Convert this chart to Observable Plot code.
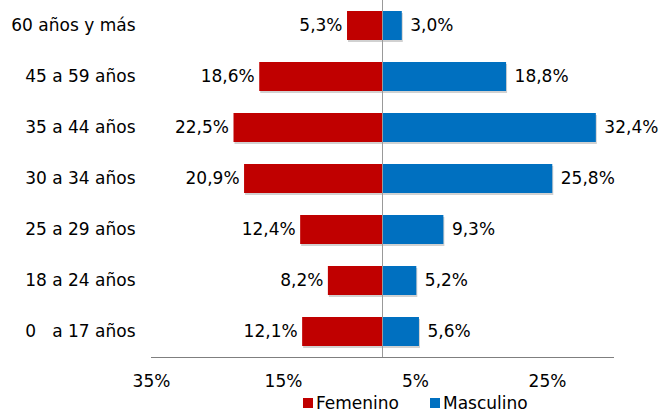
<!DOCTYPE html>
<html>
<head>
<meta charset="utf-8">
<script src="https://cdn.jsdelivr.net/npm/d3@7"></script>
<script src="https://cdn.jsdelivr.net/npm/@observablehq/plot@0.6"></script>
<style>
  body { margin: 0; background: #fff; font-family: "DejaVu Sans", Verdana, sans-serif; }
  #legend { height: 20px; line-height: 20px; font-size: 17px; color: #000; position: relative; }
  .sw { position: absolute; top: 5px; width: 10px; height: 10px; }
  .lt { position: absolute; top: 0; }
</style>
</head>
<body>
<div id="chart"></div>
<div id="legend">
  <span class="sw" style="left:303px;background:#C00000"></span><span class="lt" style="left:316px">Femenino</span>
  <span class="sw" style="left:430px;background:#0070C0"></span><span class="lt" style="left:443px">Masculino</span>
</div>
<script>
const categories = ["60 años y más", "45 a 59 años", "35 a 44 años", "30 a 34 años", "25 a 29 años", "18 a 24 años", "0   a 17 años"];
const femenino = [5.3, 18.6, 22.5, 20.9, 12.4, 8.2, 12.1];
const masculino = [3.0, 18.8, 32.4, 25.8, 9.3, 5.2, 5.6];
const xTicks = [-35, -15, 5, 25];

const fmt = d => d.toFixed(1).replace(".", ",") + "%";
const fem = categories.map((c, i) => ({cat: c, v: -femenino[i], label: fmt(femenino[i])}));
const mas = categories.map((c, i) => ({cat: c, v: masculino[i], label: fmt(masculino[i])}));

const chart = Plot.plot({
  width: 664,
  height: 393,
  marginTop: 0,
  marginBottom: 36,
  marginLeft: 151,
  marginRight: 51,
  style: {fontFamily: "DejaVu Sans, Verdana, sans-serif", fontSize: "17px", color: "#000", whiteSpace: "pre"},
  x: {domain: [-35, 35], ticks: xTicks, tickFormat: d => Math.abs(d) + "%", label: null},
  y: {domain: categories, paddingInner: 0.43, paddingOuter: 0.215, label: null},
  marks: [
    Plot.barX(fem, {x: "v", y: "cat", fill: "#000", fillOpacity: 0.18, dx: 1, dy: 2}),
    Plot.barX(mas, {x: "v", y: "cat", fill: "#000", fillOpacity: 0.18, dx: 1, dy: 2}),
    Plot.barX(fem, {x: "v", y: "cat", fill: "#C00000"}),
    Plot.barX(mas, {x: "v", y: "cat", fill: "#0070C0"}),
    Plot.ruleX([0], {stroke: "#999", strokeWidth: 1}),
    Plot.frame({anchor: "bottom", stroke: "#7f7f7f"}),
    Plot.text(fem, {x: "v", y: "cat", text: "label", textAnchor: "end", dx: -5, fill: "#000"}),
    Plot.text(mas, {x: "v", y: "cat", text: "label", textAnchor: "start", dx: 8, fill: "#000"}),
    Plot.axisX({ticks: xTicks, tickFormat: d => Math.abs(d) + "%", tickSize: 0, tickPadding: 17, label: null, fill: "#000"}),
    Plot.axisY({tickSize: 0, tickPadding: 16, label: null, fill: "#000"})
  ]
});
document.getElementById("chart").appendChild(chart);
</script>
</body>
</html>
